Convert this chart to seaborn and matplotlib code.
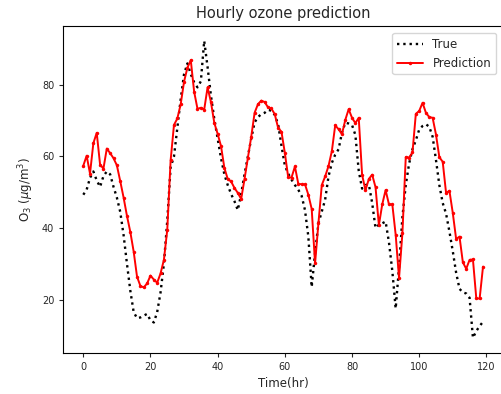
import numpy as np
import pandas as pd
import matplotlib
matplotlib.use("Agg")
import matplotlib.pyplot as plt
import seaborn as sns

# Hourly ozone concentration (µg/m³), observed and model predicted
hours = list(range(120))

true_o3 = [
    49.3, 50.7, 54.0, 55.8, 53.3, 51.5, 54.5, 55.8, 55.0, 51.5,
    48.5, 44.5, 38.0, 30.0, 22.5, 16.5, 14.8, 15.0, 15.5, 16.0,
    14.2, 13.6, 16.5, 22.0, 30.0, 42.0, 57.0, 60.0, 68.0, 76.0,
    83.0, 86.0, 83.0, 80.7, 79.3, 81.0, 92.3, 85.0, 77.0, 70.5,
    65.0, 59.5, 55.0, 52.0, 49.5, 47.5, 45.0, 49.5, 55.0, 60.0,
    65.0, 69.5, 71.0, 71.8, 72.2, 73.0, 72.8, 71.6, 69.0, 63.0,
    57.5, 55.2, 53.5, 52.0, 50.7, 49.0, 45.0, 37.6, 23.5, 33.0,
    41.3, 44.6, 47.9, 54.4, 58.2, 60.5, 62.0, 66.6, 69.4, 69.2,
    68.8, 66.0, 56.0, 51.0, 52.0, 52.2, 47.0, 40.0, 40.9, 41.3,
    41.8, 36.0, 28.0, 17.5, 29.0, 43.0, 52.0, 58.0, 62.0, 64.5,
    67.5, 68.5, 69.0, 68.3, 65.5, 59.0, 52.0, 47.0, 44.0, 39.0,
    33.5, 27.5, 23.0, 22.0, 21.7, 20.5, 9.3, 11.2, 12.6, 13.8,
]

pred_o3 = [
    57.4, 60.2, 55.2, 63.7, 66.6, 57.7, 56.6, 62.2, 60.9, 59.5,
    57.5, 53.1, 48.5, 43.4, 38.9, 33.4, 26.4, 23.8, 23.4, 24.5,
    26.7, 25.6, 24.7, 27.3, 31.1, 39.5, 58.9, 68.8, 70.6, 74.6,
    80.9, 84.8, 86.9, 78.1, 73.3, 73.6, 73.1, 79.3, 75.2, 69.4,
    66.3, 62.9, 56.8, 53.7, 53.0, 51.2, 49.8, 48.1, 53.7, 59.6,
    65.5, 72.2, 74.6, 75.6, 75.2, 73.7, 73.4, 71.8, 68.0, 66.9,
    61.0, 54.2, 54.1, 57.2, 52.4, 52.2, 52.2, 49.3, 45.3, 30.1,
    41.3, 52.0, 54.4, 57.3, 61.5, 68.7, 67.6, 66.2, 70.2, 73.2,
    70.8, 69.3, 70.8, 54.9, 50.5, 53.7, 54.9, 51.4, 40.8, 46.6,
    50.6, 46.6, 46.6, 38.1, 26.0, 38.5, 59.8, 59.7, 61.1, 71.9,
    72.7, 75.0, 72.2, 71.0, 70.8, 66.1, 59.8, 58.5, 49.8, 50.4,
    44.2, 36.9, 37.6, 30.4, 28.6, 31.1, 31.2, 20.3, 20.3, 29.2,
]

df = pd.DataFrame({"hour": hours, "True": true_o3, "Prediction": pred_o3})

sns.set_theme(style="ticks")
plt.rcParams["font.family"] = ["DejaVu Sans"]

fig = plt.figure(figsize=(5.01, 3.94), dpi=100)
ax = fig.add_axes([63.3 / 501, 41.3 / 394, (503 - 63.3) / 501, (352.7 - 26) / 394])

sns.lineplot(data=df, x="hour", y="True", ax=ax, color="black",
             linestyle=":", linewidth=1.7, label="True")
sns.lineplot(data=df, x="hour", y="Prediction", ax=ax, color="red",
             linewidth=1.4, marker="o", markersize=2.5, markeredgewidth=0,
             label="Prediction")

ax.set_title("Hourly ozone prediction", fontsize=10.5)
ax.set_xlabel("Time(hr)", fontsize=8.5)
ax.set_ylabel(r"O$_3$ ($\mu$g/m$^3$)", fontsize=8.5)
ax.set_xticks([0, 20, 40, 60, 80, 100, 120])
ax.set_yticks([20, 40, 60, 80])
ax.tick_params(labelsize=7, length=3, width=0.8)
for s in ax.spines.values():
    s.set_linewidth(0.8)
    s.set_color("black")

leg = ax.legend(loc="upper right", fontsize=8.5, frameon=True,
                borderaxespad=0.6, handlelength=2.2)
leg.get_frame().set_edgecolor("#cccccc")

fig.savefig("out.png", dpi=100)
